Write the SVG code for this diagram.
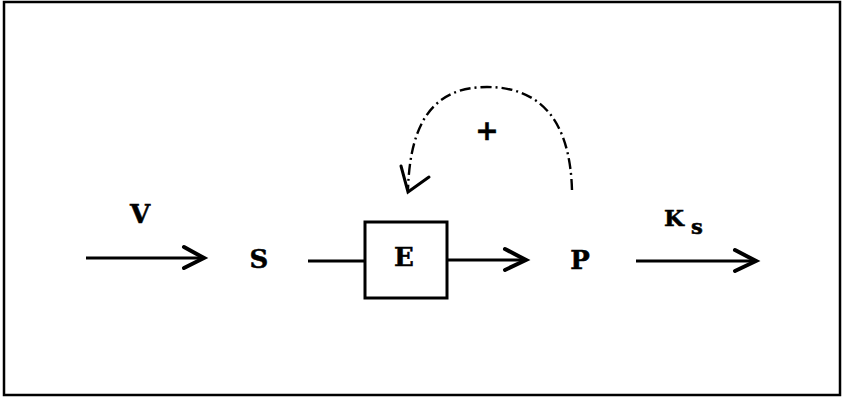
<svg xmlns="http://www.w3.org/2000/svg" width="843" height="397" viewBox="0 0 843 397">
<style>
.t{font-family:"DejaVu Serif","Liberation Serif",serif;font-weight:bold;font-size:26px;fill:#000;text-anchor:middle;stroke:#000;stroke-width:0.5}
.ln{stroke:#000;stroke-width:3;fill:none}
.hd{stroke:#000;stroke-width:4;fill:none;stroke-linecap:round;stroke-linejoin:miter}
</style>
<rect x="4" y="2" width="836" height="393" fill="#fff" stroke="#000" stroke-width="2.5"/>
<g id="V"><text class="t" x="140" y="223">V</text></g>
<g id="S"><text class="t" x="259" y="268">S</text></g>
<g id="E"><rect x="365" y="222" width="82" height="76" fill="#fff" stroke="#000" stroke-width="3"/><text class="t" x="404" y="266">E</text></g>
<g id="P"><text class="t" x="580" y="269">P</text></g>
<g id="Ks"><text class="t" x="674" y="226" style="font-size:23px">K</text><text class="t" x="697" y="234" style="font-size:21px">s</text></g>
<g id="plus"><text class="t" x="487" y="140" style="font-size:28px">+</text></g>
<g id="connectors">
<line class="ln" x1="86" y1="258" x2="204" y2="258"/>
<polyline class="hd" points="184,247 204,258 184,268"/>
<line class="ln" x1="308" y1="261" x2="365" y2="261"/>
<line class="ln" x1="447" y1="260" x2="526" y2="260"/>
<polyline class="hd" points="505,249 526,260 505,270"/>
<line class="ln" x1="636" y1="261" x2="756" y2="261"/>
<polyline class="hd" points="735,250 756,261 735,271"/>
<path d="M572,190 C570,120 540,87 487,87 C435,87 410,120 408,190" fill="none" stroke="#000" stroke-width="2.4" stroke-dasharray="11 4 2 4"/>
<polyline points="401,166 408,192 429,177" fill="none" stroke="#000" stroke-width="3" stroke-linecap="round"/>
</g>
</svg>
